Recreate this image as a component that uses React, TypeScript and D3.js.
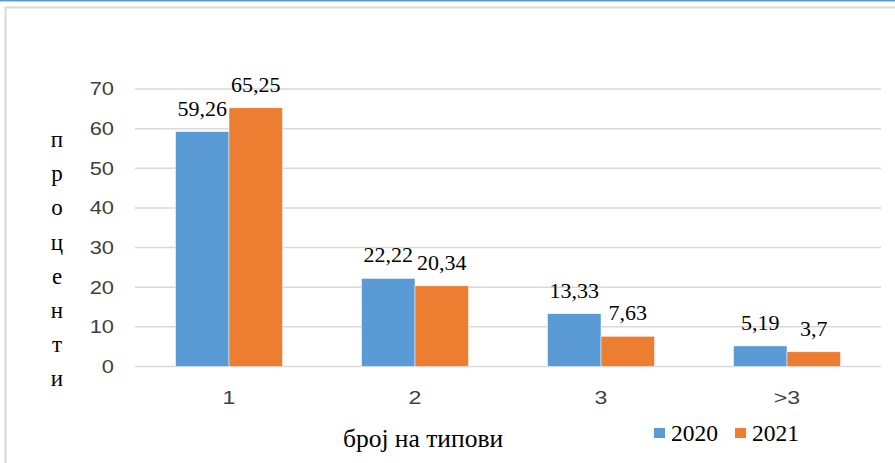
import React from "react";
import * as d3 from "d3";

// Share of cases by number of types, per year
const categories = ["1", "2", "3", ">3"];
const years = ["2020", "2021"];
const values2020 = [59.26, 22.22, 13.33, 5.19];
const values2021 = [65.25, 20.34, 7.63, 3.7];
const labels2020 = ["59,26", "22,22", "13,33", "5,19"];
const labels2021 = ["65,25", "20,34", "7,63", "3,7"];
const yTicks = [0, 10, 20, 30, 40, 50, 60, 70];
const yTitle = "проценти";
const xTitle = "број на типови";

const colors = ["#5B9BD5", "#ED7D31"];

const W = 895;
const H = 463;
// axis labels use a slightly widened sans face
const AXIS_STRETCH = 1.25;

export default function App() {
  const x = d3
    .scaleBand<string>()
    .domain(categories)
    .range([136, 880])
    .paddingInner(0.425)
    .paddingOuter(0.2125);
  const sub = d3.scaleBand<string>().domain(years).range([0, x.bandwidth()]);
  const y = d3.scaleLinear().domain([0, 70]).range([366.5, 89]);

  const series = [
    { year: years[0], values: values2020, labels: labels2020, color: colors[0] },
    { year: years[1], values: values2021, labels: labels2021, color: colors[1] },
  ];

  return (
    <svg
      width={W}
      height={H}
      style={{ position: "absolute", left: 0, top: 0, background: "#fff" }}
    >
      <style>{`
        .serif { font-family: 'Liberation Serif'; fill: #000; }
        .sans { font-family: 'Liberation Sans'; fill: #404040; }
      `}</style>

      {/* top accent line and chart frame */}
      <rect x={0} y={0} width={W} height={1.5} fill="#5B9BD5" />
      <path d={`M5.5,${H} V7.5 H${W}`} fill="none" stroke="#d9d9d9" strokeWidth={2} />

      {/* gridlines */}
      {yTicks.map((t) => (
        <line
          key={t}
          x1={135}
          x2={881}
          y1={y(t)}
          y2={y(t)}
          stroke="#d9d9d9"
          strokeWidth={1.5}
        />
      ))}

      {/* y tick labels */}
      {yTicks.map((t) => (
        <text
          key={"t" + t}
          className="sans"
          transform={`translate(114,${y(t)}) scale(${AXIS_STRETCH},1)`}
          dy="0.36em"
          textAnchor="end"
          fontSize={17.5}
        >
          {t}
        </text>
      ))}

      {/* bars */}
      {series.map((s) =>
        categories.map((c, i) => (
          <rect
            key={s.year + c}
            x={(x(c) ?? 0) + (sub(s.year) ?? 0)}
            y={y(s.values[i])}
            width={sub.bandwidth()}
            height={y(0) - y(s.values[i])}
            fill={s.color}
            stroke="#fff"
            strokeWidth={0.5}
          />
        ))
      )}

      {/* value labels */}
      {series.map((s) =>
        categories.map((c, i) => (
          <text
            key={"l" + s.year + c}
            className="serif"
            x={(x(c) ?? 0) + (sub(s.year) ?? 0) + sub.bandwidth() / 2}
            y={y(s.values[i]) - 16}
            textAnchor="middle"
            fontSize={22}
          >
            {s.labels[i]}
          </text>
        ))
      )}

      {/* category labels */}
      {categories.map((c) => (
        <text
          key={"c" + c}
          className="sans"
          transform={`translate(${(x(c) ?? 0) + x.bandwidth() / 2},404) scale(${AXIS_STRETCH},1)`}
          textAnchor="middle"
          fontSize={18.5}
        >
          {c}
        </text>
      ))}

      {/* vertical y-axis title, one letter per line */}
      {Array.from(yTitle).map((ch, i) => (
        <text
          key={"y" + i}
          className="serif"
          x={57}
          y={147 + i * 34.2}
          textAnchor="middle"
          fontSize={23}
        >
          {ch}
        </text>
      ))}

      {/* x-axis title */}
      <text
        className="serif"
        x={(x("2") ?? 0) + x.bandwidth() / 2 + 8}
        y={447}
        textAnchor="middle"
        fontSize={25.5}
      >
        {xTitle}
      </text>

      {/* legend */}
      {series.map((s, i) => (
        <g key={"lg" + s.year} transform={`translate(${654 + i * 81},0)`}>
          <rect x={0} y={428} width={11} height={10} fill={s.color} />
          <text className="serif" x={17} y={441} fontSize={23.5}>
            {s.year}
          </text>
        </g>
      ))}
    </svg>
  );
}
